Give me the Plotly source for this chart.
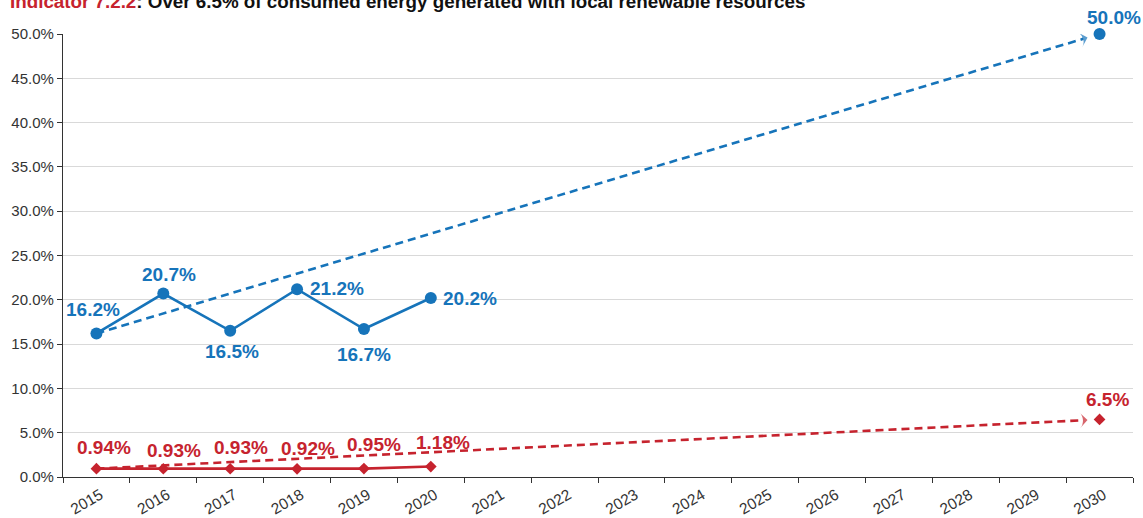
import plotly.graph_objects as go

years = list(range(2015, 2031))
actual_years = [2015, 2016, 2017, 2018, 2019, 2020]
target_year = 2030
blue_actual = [16.2, 20.7, 16.5, 21.2, 16.7, 20.2]
blue_target = 50.0
red_actual = [0.94, 0.93, 0.93, 0.92, 0.95, 1.18]
red_target = 6.5
ytick_vals = [0, 5, 10, 15, 20, 25, 30, 35, 40, 45, 50]

BLUE = "#1674BA"
RED = "#C6232E"
FONT = "Liberation Sans, Arial, sans-serif"
LBL = 19

fig = go.Figure()

def trend(x0, y0, x1, y1, color):
    # dashed trend line ending slightly before the target, with an arrow head
    gap = 0.18
    xe = x1 - gap
    ye = y0 + (y1 - y0) * (xe - x0) / (x1 - x0)
    fig.add_trace(go.Scatter(x=[x0, xe], y=[y0, ye], mode="lines+markers",
                             line=dict(color=color, width=2.6, dash="8px,5px"),
                             marker=dict(symbol=["circle", "arrow-wide"], size=[0, 11],
                                         color=color, angleref="previous",
                                         line=dict(width=0)),
                             hoverinfo="skip", showlegend=False))

trend(actual_years[0], blue_actual[0], target_year, blue_target, BLUE)
trend(actual_years[0], red_actual[0], target_year, red_target, RED)

fig.add_trace(go.Scatter(x=actual_years, y=blue_actual, mode="lines+markers",
                         line=dict(color=BLUE, width=2.6),
                         marker=dict(color=BLUE, size=12, symbol="circle"), showlegend=False))
fig.add_trace(go.Scatter(x=[target_year], y=[blue_target], mode="markers",
                         marker=dict(color=BLUE, size=12, symbol="circle"), showlegend=False,
                         cliponaxis=False))
fig.add_trace(go.Scatter(x=actual_years, y=red_actual, mode="lines+markers",
                         line=dict(color=RED, width=2.6),
                         marker=dict(color=RED, size=9, symbol="diamond"), showlegend=False))
fig.add_trace(go.Scatter(x=[target_year], y=[red_target], mode="markers",
                         marker=dict(color=RED, size=9, symbol="diamond"), showlegend=False))

# blue labels: (xshift, yshift) offsets in pixels
blue_offsets = [(-3, 24), (6, 19), (2, -21), (40, 1), (0, -25), (39, 0)]
for yr, v, (dx, dy) in zip(actual_years, blue_actual, blue_offsets):
    fig.add_annotation(x=yr, y=v, text=f"<b>{v:.1f}%</b>", showarrow=False,
                       xshift=dx, yshift=dy, font=dict(color=BLUE, size=LBL, family=FONT))
fig.add_annotation(x=target_year, y=blue_target, text=f"<b>{blue_target:.1f}%</b>",
                   showarrow=False, xshift=14, yshift=17,
                   font=dict(color=BLUE, size=LBL, family=FONT))

red_offsets = [(8, 21), (11, 18), (11, 21), (11, 20), (10, 24), (12, 24)]
for yr, v, (dx, dy) in zip(actual_years, red_actual, red_offsets):
    fig.add_annotation(x=yr, y=v, text=f"<b>{v:.2f}%</b>", showarrow=False,
                       xshift=dx, yshift=dy, font=dict(color=RED, size=LBL, family=FONT))
fig.add_annotation(x=target_year, y=red_target, text=f"<b>{red_target:.1f}%</b>",
                   showarrow=False, xshift=8, yshift=20,
                   font=dict(color=RED, size=LBL, family=FONT))

# title (partly cut off at the top of the page, as in the reference)
fig.add_annotation(
    x=0, y=1, xref="paper", yref="paper", xanchor="left", yanchor="middle",
    xshift=-55, yshift=33, showarrow=False,
    text=f"<b><span style='color:{RED}'>Indicator 7.2.2</span>: Over 6.5% of consumed energy generated with local renewable resources</b>",
    font=dict(size=18.8, color="#111111", family=FONT))

fig.update_layout(
    width=1143, height=518,
    margin=dict(l=63, r=10, t=34, b=41),
    plot_bgcolor="white", paper_bgcolor="white",
    font=dict(family=FONT, color="#333333"),
    xaxis=dict(
        range=[2014.5, 2030.5], tickmode="array", tickvals=years,
        ticktext=[str(y) for y in years], tickangle=-30, ticks="",
        tickfont=dict(size=15.5, color="#333333"), automargin=False,
        ticklabelshift=4, ticklabelstandoff=2,
        showgrid=False, zeroline=False,
        showline=True, linecolor="#333333", linewidth=1.2,
        minor=dict(tickmode="array", tickvals=[y - 0.5 for y in years] + [2030.5],
                   ticks="outside", ticklen=5, tickcolor="#333333", showgrid=False),
    ),
    yaxis=dict(
        range=[0, 50], tickmode="array", tickvals=ytick_vals,
        ticktext=[f"{v:.1f}%" for v in ytick_vals],
        tickfont=dict(size=15, color="#333333"), automargin=False,
        ticks="outside", ticklen=5, tickcolor="#333333",
        showgrid=True, gridcolor="#D9D9D9", gridwidth=1,
        zeroline=False, showline=True, linecolor="#333333", linewidth=1.2,
    ),
)

fig.write_html("out.html", config={"displayModeBar": False},
               post_script="document.body.style.margin='0';document.body.style.overflow='hidden';")
